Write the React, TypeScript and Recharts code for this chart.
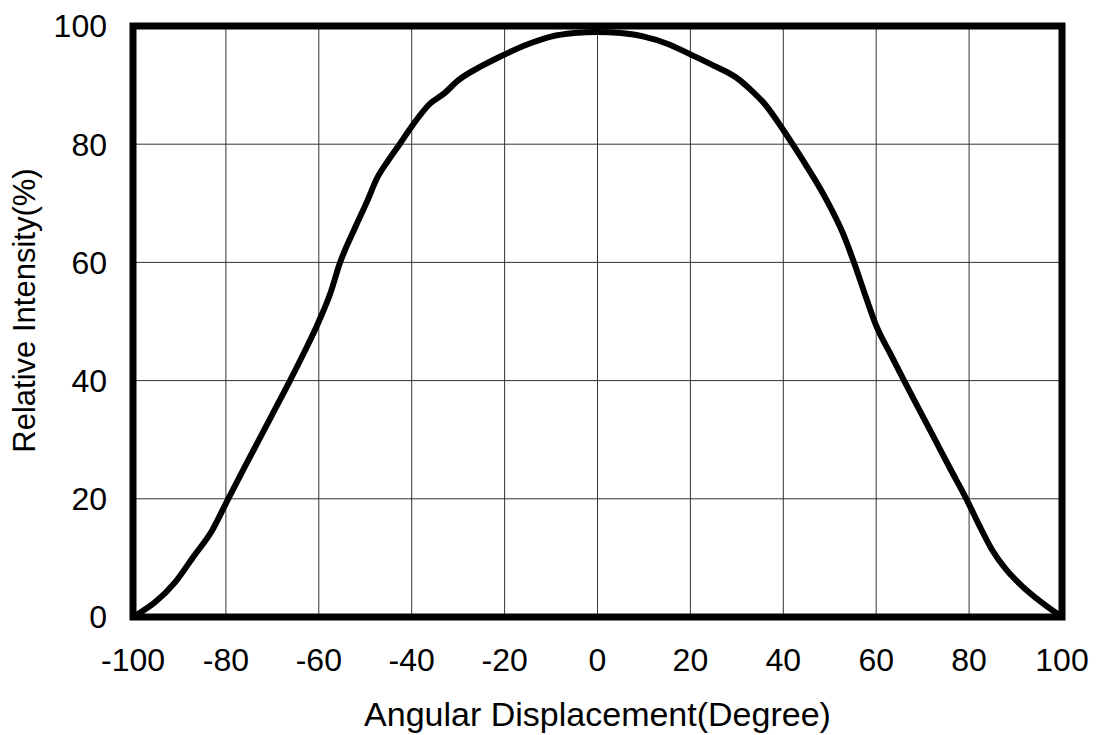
import React from "react";
import {
  LineChart,
  Line,
  XAxis,
  YAxis,
  CartesianGrid,
  ReferenceArea,
  Label,
} from "recharts";

const angleDeg = [
  -100, -91, -87, -83, -79.5, -76, -73, -70, -66.2, -63, -60, -57.5, -55.5, -52,
  -49.5, -47.5, -45, -42.6, -40, -36, -33, -30, -25, -21, -15, -10, -5, 0, 5, 10,
  15, 20, 25, 30, 33, 36, 40, 42, 45, 49, 53, 55.3, 57.8, 60, 63, 66, 70, 73, 76,
  79.4, 82, 85, 88, 90.5, 100,
];
const intensityPct = [
  0, 5.8, 10.2, 14.6, 20.0, 25.3, 29.8, 34.3, 40.0, 45.0, 50.0, 54.8, 59.8, 66.2,
  70.5, 74.2, 77.3, 80.0, 83.0, 86.9, 88.6, 90.8, 93.2, 94.8, 96.9, 98.2, 98.8,
  99.0, 98.8, 98.2, 97.0, 95.2, 93.3, 91.2, 89.2, 86.8, 82.4, 80.0, 76.3, 71.0,
  64.6, 59.8, 54.1, 49.3, 44.6, 40.0, 34.0, 29.5, 25.0, 20.0, 15.8, 11.3, 8.0,
  5.9, 0,
];
const xTicks = [-100, -80, -60, -40, -20, 0, 20, 40, 60, 80, 100];
const yTicks = [0, 20, 40, 60, 80, 100];
const xTitle = "Angular Displacement(Degree)";
const yTitle = "Relative Intensity(%)";

const data = angleDeg.map((x, i) => ({ x, y: intensityPct[i] }));

const FONT = "'Liberation Sans', Arial, Helvetica, sans-serif";

export default function App() {
  return (
    <div style={{ position: "absolute", left: 0, top: 0, width: 1099, height: 735, background: "#fff" }}>
      <LineChart
        width={1099}
        height={735}
        data={data}
        margin={{ top: 26, right: 37, bottom: 0, left: 0 }}
      >
        <CartesianGrid stroke="#333" strokeWidth={1} />
        <XAxis
          type="number"
          dataKey="x"
          domain={[-100, 100]}
          ticks={xTicks}
          allowDataOverflow
          height={118}
          tickLine={false}
          axisLine={false}
          tickSize={0}
          tickMargin={31}
          tick={{ fill: "#000", fontSize: 32, fontFamily: FONT }}
          interval={0}
        >
          <Label
            content={({ viewBox }: any) => (
              <text
                x={viewBox.x + viewBox.width / 2}
                y={viewBox.y + 109}
                textAnchor="middle"
                fill="#000"
                fontSize={34}
                fontFamily={FONT}
              >
                {xTitle}
              </text>
            )}
          />
        </XAxis>
        <YAxis
          type="number"
          domain={[0, 100]}
          ticks={yTicks}
          allowDataOverflow
          width={133}
          tickLine={false}
          axisLine={false}
          tickSize={0}
          tickMargin={26}
          tick={{ fill: "#000", fontSize: 32, fontFamily: FONT }}
          interval={0}
        >
          <Label
            content={({ viewBox }: any) => {
              const cx = viewBox.x + 35;
              const cy = viewBox.y + viewBox.height / 2 - 11;
              return (
                <text
                  x={cx}
                  y={cy}
                  transform={`rotate(-90, ${cx}, ${cy})`}
                  textAnchor="middle"
                  fill="#000"
                  fontSize={31}
                  fontFamily={FONT}
                >
                  {yTitle}
                </text>
              );
            }}
          />
        </YAxis>
        <Line
          type="monotone"
          dataKey="y"
          stroke="#000"
          strokeWidth={6}
          dot={false}
          isAnimationActive={false}
        />
        <ReferenceArea
          x1={-100}
          x2={100}
          y1={0}
          y2={100}
          fill="none"
          fillOpacity={0}
          stroke="#000"
          strokeWidth={7}
          ifOverflow="visible"
        />
      </LineChart>
    </div>
  );
}
